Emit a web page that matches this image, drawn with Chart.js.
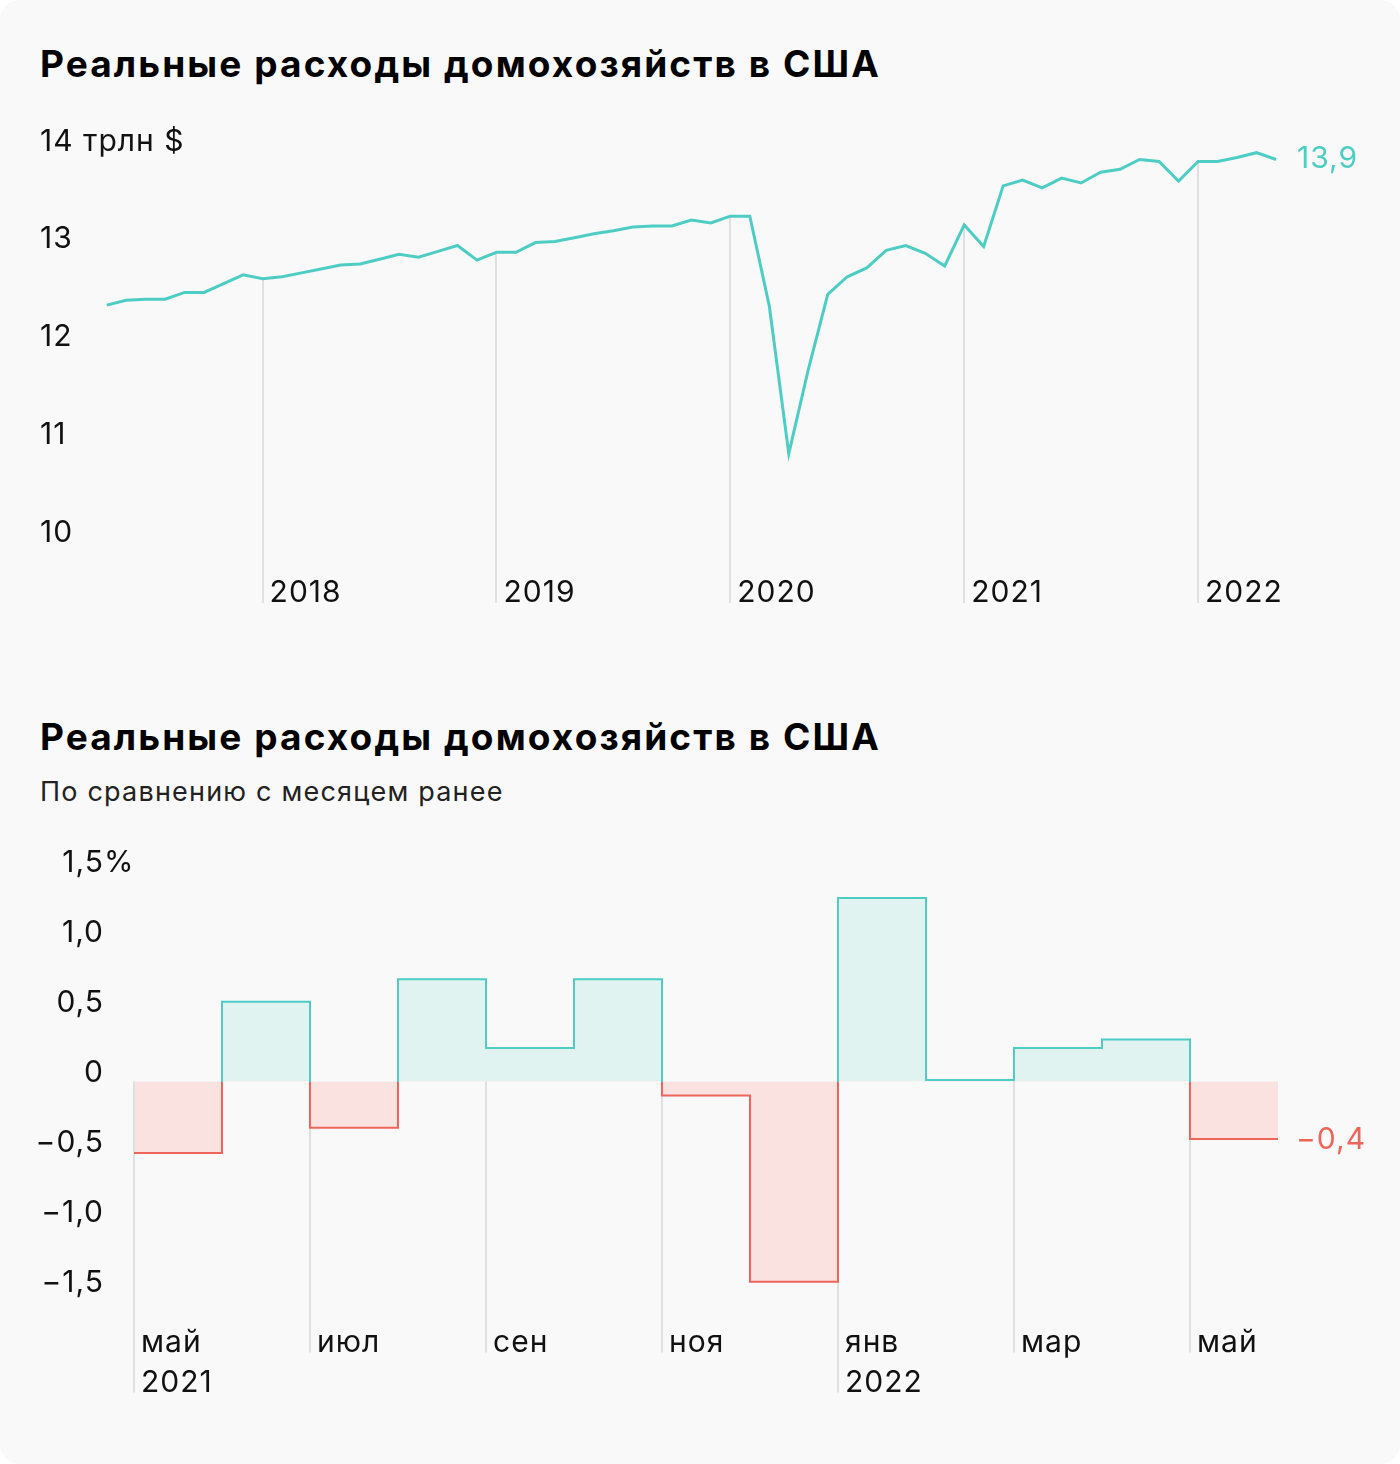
<!DOCTYPE html>
<html lang="ru">
<head>
<meta charset="utf-8">
<title>Реальные расходы домохозяйств в США</title>
<script src="https://cdn.jsdelivr.net/npm/chart.js@4.4.1/dist/chart.umd.min.js"></script>
<style>
  html, body { margin: 0; padding: 0; background: #fff; }
  .card { position: relative; width: 1400px; height: 1464px; background: #f9f9f9; border-radius: 20px; overflow: hidden; font-family: Inter, sans-serif; color: #111; }
  .title { position: absolute; left: 40px; font-weight: 700; font-size: 37px; line-height: 44px; letter-spacing: 2.1px; white-space: nowrap; color: #000; }
  .sub { position: absolute; left: 40px; font-size: 27px; line-height: 32px; letter-spacing: 1.2px; color: #222; white-space: nowrap; }
  canvas { position: absolute; left: 0; }
</style>
</head>
<body>
<div class="card">
  <div class="title" style="top:42px">Реальные расходы домохозяйств в США</div>
  <canvas id="levels" width="1400" height="540" style="top:100px"></canvas>
  <div class="title" style="top:715px">Реальные расходы домохозяйств в США</div>
  <div class="sub" style="top:776px">По сравнению с месяцем ранее</div>
  <canvas id="changes" width="1400" height="612" style="top:808px"></canvas>
</div>
<script>
const TEAL = '#4ecdc4'
const RED = '#f0655a'
const TEAL_FILL = '#e0f3f1'
const RED_FILL = '#f9e2e0'
const GRID = '#e0e0e0'
const INK = '#111'
const FONT = 'Inter'

// top chart: real household spending, trillion $
const spendMonths = [
    '2017-05','2017-06','2017-07','2017-08','2017-09','2017-10','2017-11','2017-12',
    '2018-01','2018-02','2018-03','2018-04','2018-05','2018-06','2018-07','2018-08','2018-09','2018-10','2018-11','2018-12',
    '2019-01','2019-02','2019-03','2019-04','2019-05','2019-06','2019-07','2019-08','2019-09','2019-10','2019-11','2019-12',
    '2020-01','2020-02','2020-03','2020-04','2020-05','2020-06','2020-07','2020-08','2020-09','2020-10','2020-11','2020-12',
    '2021-01','2021-02','2021-03','2021-04','2021-05','2021-06','2021-07','2021-08','2021-09','2021-10','2021-11','2021-12',
    '2022-01','2022-02','2022-03','2022-04','2022-05'
]
const spendValues = [
    12.40, 12.45, 12.46, 12.46, 12.53, 12.53, 12.62, 12.71,
    12.67, 12.69, 12.73, 12.77, 12.81, 12.82, 12.87, 12.92, 12.89, 12.95, 13.01, 12.86,
    12.94, 12.94, 13.04, 13.05, 13.09, 13.13, 13.16, 13.20, 13.21, 13.21, 13.27, 13.24,
    13.31, 13.31, 12.39, 10.88, 11.74, 12.51, 12.69, 12.78, 12.96, 13.01, 12.93, 12.80,
    13.22, 13.00, 13.62, 13.68, 13.60, 13.70, 13.65, 13.76, 13.79, 13.89, 13.87, 13.67,
    13.87, 13.87, 13.91, 13.96, 13.89
]
const yearTicks = ['2018-01', '2019-01', '2020-01', '2021-01', '2022-01']
const levelTicks = [10, 11, 12, 13, 14]
const levelUnit = ' трлн $'

// bottom chart: change on previous month, %
const changeMonths = ['2021-05','2021-06','2021-07','2021-08','2021-09','2021-10','2021-11','2021-12','2022-01','2022-02','2022-03','2022-04','2022-05']
const changeValues = [-0.51, 0.57, -0.33, 0.73, 0.24, 0.73, -0.10, -1.43, 1.31, 0.01, 0.24, 0.30, -0.41]
const changeTickMonths = ['2021-05', '2021-07', '2021-09', '2021-11', '2022-01', '2022-03', '2022-05']
const changeTickLabels = [['май', '2021'], ['июл'], ['сен'], ['ноя'], ['янв', '2022'], ['мар'], ['май']]
const changeTicks = [-1.5, -1, -0.5, 0, 0.5, 1, 1.5]
const changeUnit = '%'

Chart.defaults.font.family = FONT
Chart.defaults.color = INK

const fmt = v => v === 0 ? '0' : v.toFixed(1).replace('.', ',').replace('-', '\u2212')

// a touch of tracking on all canvas text, the original face is wider
const tracking = {
    id: 'tracking',
    beforeUpdate(chart){ chart.ctx.letterSpacing = '1px' },
    beforeDraw(chart){ chart.ctx.letterSpacing = '1px' }
}

// vertical year lines, from the line down to the labels
const yearLines = {
    id: 'yearLines',
    beforeDatasetsDraw(chart){
        const {ctx, scales: {x, y}} = chart
        ctx.save()
        ctx.strokeStyle = GRID
        ctx.lineWidth = 2
        x.ticks.forEach(t => {
            const px = Math.round(x.getPixelForValue(t.value))
            ctx.beginPath()
            ctx.moveTo(px, y.getPixelForValue(spendValues[t.value]))
            ctx.lineTo(px, x.top + 39)
            ctx.stroke()
        })
        ctx.restore()
    }
}

// vertical month lines, from zero down to the labels, over the fill and under the step line
const monthLines = {
    id: 'monthLines',
    beforeDatasetDraw(chart, args){
        const {ctx, scales: {x, y}} = chart
        ctx.save()
        ctx.strokeStyle = GRID
        ctx.lineWidth = 2
        x.ticks.forEach(t => {
            const lines = changeTickLabels[changeTickMonths.indexOf(changeMonths[t.value])] || ['']
            const px = Math.round(x.getPixelForValue(t.value))
            ctx.beginPath()
            ctx.moveTo(px, y.getPixelForValue(0))
            ctx.lineTo(px, x.top + lines.length * 40 - 7)
            ctx.stroke()
        })
        ctx.restore()
    }
}

// value written next to the last point
const endLabel = {
    id: 'endLabel',
    afterDatasetsDraw(chart, args, opts){
        const meta = chart.getDatasetMeta(0)
        const pt = meta.data[meta.data.length - 1]
        const {ctx} = chart
        ctx.save()
        ctx.font = `${opts.size}px ${FONT}`
        ctx.fillStyle = opts.color
        ctx.textAlign = 'left'
        ctx.textBaseline = 'middle'
        ctx.fillText(opts.text, pt.x + opts.dx, pt.y + opts.dy)
        ctx.restore()
    }
}

// unit written after the top tick label of the y axis
const unitMark = {
    id: 'unitMark',
    afterDraw(chart, args, opts){
        const {ctx, scales: {y}} = chart
        const t = y.options.ticks
        const top = y.ticks[y.ticks.length - 1]
        ctx.save()
        ctx.font = `${t.font.size}px ${FONT}`
        ctx.fillStyle = INK
        ctx.textAlign = 'left'
        ctx.textBaseline = 'middle'
        const x = t.crossAlign === 'far' ? y.left + ctx.measureText(top.label).width : y.right - t.padding
        ctx.fillText(opts.text, x, y.getPixelForValue(top.value) + t.labelOffset)
        ctx.restore()
    }
}

function signColor(context){
    const {chart} = context
    const {chartArea, scales} = chart
    if (!chartArea) return TEAL
    const zero = scales.y.getPixelForValue(0)
    const f = Math.min(1, Math.max(0, (zero - chartArea.top) / (chartArea.bottom - chartArea.top)))
    const g = chart.ctx.createLinearGradient(0, chartArea.top, 0, chartArea.bottom)
    g.addColorStop(0, TEAL)
    g.addColorStop(f, TEAL)
    g.addColorStop(f, RED)
    g.addColorStop(1, RED)
    return g
}

const tickFont = {family: FONT, size: 30}
const noGrid = {display: false, drawTicks: false}

new Chart(document.getElementById('levels'), {
    type: 'line',
    data: {
        labels: spendMonths,
        datasets: [{
            data: spendValues,
            borderColor: TEAL,
            borderWidth: 3,
            pointRadius: 0,
            tension: 0,
            fill: false
        }]
    },
    options: {
        responsive: false,
        animation: false,
        devicePixelRatio: 1,
        layout: {padding: {left: 40, right: 124, top: 39, bottom: 0}},
        plugins: {
            legend: {display: false},
            tooltip: {enabled: false},
            endLabel: {text: fmt(spendValues[spendValues.length - 1]), color: TEAL, size: 30, dx: 21, dy: -1},
            unitMark: {text: levelUnit}
        },
        scales: {
            x: {
                type: 'category',
                offset: false,
                grid: noGrid,
                border: {display: false},
                afterBuildTicks: s => { s.ticks = yearTicks.map(m => ({value: spendMonths.indexOf(m)})) },
                afterFit: s => { s.height = 76 },
                ticks: {
                    autoSkip: false, maxRotation: 0, align: 'start', labelOffset: 7, padding: 11,
                    font: tickFont, color: INK,
                    callback: v => spendMonths[v].slice(0, 4)
                }
            },
            y: {
                min: 9.75, max: 14.1, bounds: 'data',
                grid: noGrid,
                border: {display: false},
                afterBuildTicks: s => { s.ticks = levelTicks.map(v => ({value: v})) },
                afterFit: s => { s.width = 66.7 },
                ticks: {
                    crossAlign: 'far', labelOffset: -7, padding: 0,
                    font: tickFont, color: INK,
                    callback: v => String(v)
                }
            }
        }
    },
    plugins: [tracking, yearLines, endLabel, unitMark]
})

// step outline: each month holds its value until the next month starts
const stepPoints = changeValues.map((v, i) => ({x: i, y: v}))
stepPoints.push({x: changeValues.length, y: changeValues[changeValues.length - 1]})

new Chart(document.getElementById('changes'), {
    type: 'line',
    data: {
        datasets: [{
            data: stepPoints,
            stepped: 'before',
            borderColor: signColor,
            borderWidth: 2,
            pointRadius: 0,
            fill: {target: 'origin', above: TEAL_FILL, below: RED_FILL}
        }]
    },
    options: {
        responsive: false,
        animation: false,
        devicePixelRatio: 1,
        layout: {padding: {left: 0, right: 122, top: 49.5, bottom: 0}},
        plugins: {
            legend: {display: false},
            tooltip: {enabled: false},
            endLabel: {text: fmt(changeValues[changeValues.length - 1]), color: RED, size: 30, dx: 18, dy: 1.5},
            unitMark: {text: changeUnit}
        },
        scales: {
            x: {
                type: 'linear',
                min: 0, max: changeMonths.length, bounds: 'data',
                grid: noGrid,
                border: {display: false},
                afterBuildTicks: s => { s.ticks = changeTickMonths.map(m => ({value: changeMonths.indexOf(m)})) },
                afterFit: s => { s.height = 100.5 },
                ticks: {
                    autoSkip: false, maxRotation: 0, align: 'start', labelOffset: 7, padding: 3,
                    font: {family: FONT, size: 30, lineHeight: 40 / 30}, color: INK,
                    callback: v => changeTickLabels[changeTickMonths.indexOf(changeMonths[v])]
                }
            },
            y: {
                min: -1.7, max: 1.6, bounds: 'data',
                grid: noGrid,
                border: {display: false},
                afterBuildTicks: s => { s.ticks = changeTicks.map(v => ({value: v})) },
                afterFit: s => { s.width = 134 },
                ticks: {
                    crossAlign: 'near', labelOffset: -8.5, padding: 30,
                    font: tickFont, color: INK,
                    callback: v => fmt(v)
                }
            }
        }
    },
    plugins: [tracking, monthLines, endLabel, unitMark]
})
</script>
</body>
</html>
